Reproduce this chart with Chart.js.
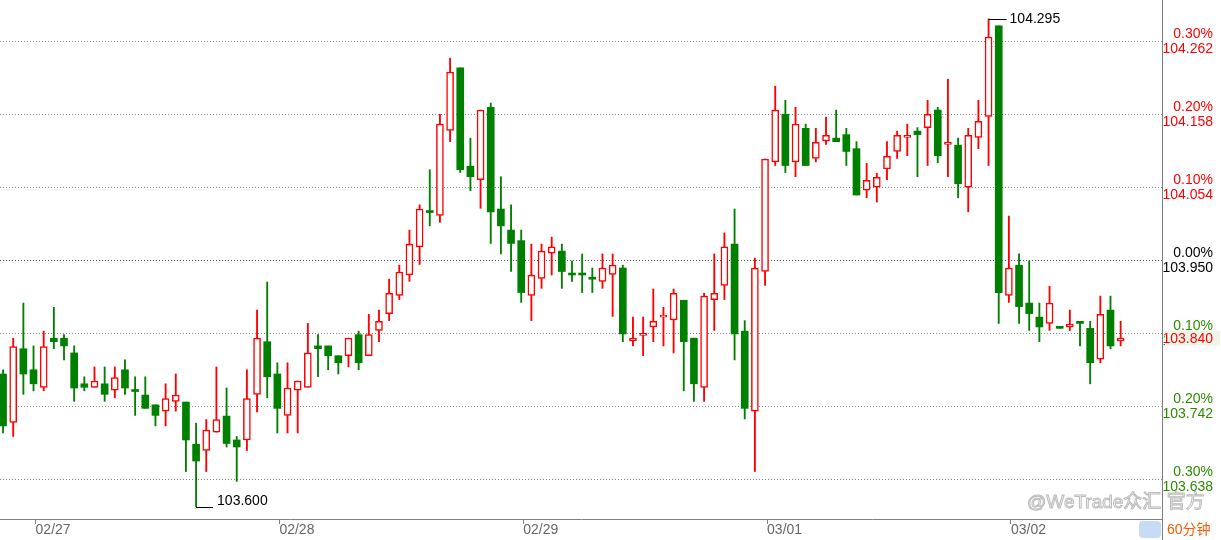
<!DOCTYPE html>
<html>
<head>
<meta charset="utf-8">
<script src="https://cdn.jsdelivr.net/npm/chart.js@4.4.1/dist/chart.umd.min.js"></script>
<style>
  html, body { margin: 0; padding: 0; background: #fff; }
  #wrap { width: 1221px; height: 540px; position: relative; }
</style>
</head>
<body>
<div id="wrap"><canvas id="kline"></canvas></div>
<script>
// 60 minute candles, 02/27 -> 03/02
const opens = [
  103.789, 103.720, 103.825, 103.795, 103.770, 103.840, 103.840, 103.819, 103.775, 103.770,
  103.775, 103.766, 103.795, 103.764, 103.759, 103.745, 103.736, 103.750, 103.749, 103.689,
  103.680, 103.706, 103.729, 103.695, 103.695, 103.760, 103.835, 103.789, 103.730, 103.766,
  103.770, 103.829, 103.829, 103.815, 103.815, 103.845, 103.815, 103.851, 103.875, 103.901,
  103.930, 103.970, 104.019, 104.015, 104.136, 104.225, 104.085, 104.066, 104.169, 104.024,
  103.994, 103.979, 103.901, 103.925, 103.961, 103.964, 103.930, 103.930, 103.924, 103.921,
  103.931, 103.940, 103.836, 103.844, 103.856, 103.870, 103.866, 103.894, 103.840, 103.770,
  103.895, 103.915, 103.974, 103.850, 103.736, 103.935, 104.091, 104.159, 104.091, 104.139,
  104.096, 104.121, 104.125, 104.130, 104.110, 104.051, 104.055, 104.081, 104.106, 104.126,
  104.135, 104.140, 104.165, 104.116, 104.115, 104.055, 104.126, 104.156, 104.285, 103.901,
  103.944, 103.890, 103.870, 103.861, 103.854, 103.856, 103.864, 103.854, 103.810, 103.880,
  103.836
];
const highs = [
  103.795, 103.840, 103.890, 103.829, 103.850, 103.884, 103.845, 103.829, 103.785, 103.799,
  103.799, 103.799, 103.809, 103.785, 103.785, 103.745, 103.775, 103.789, 103.749, 103.719,
  103.724, 103.799, 103.769, 103.700, 103.795, 103.880, 103.920, 103.805, 103.805, 103.779,
  103.861, 103.845, 103.829, 103.815, 103.840, 103.850, 103.874, 103.880, 103.924, 103.944,
  103.994, 104.030, 104.080, 104.159, 104.239, 104.225, 104.125, 104.165, 104.175, 104.070,
  104.030, 103.994, 103.974, 103.974, 103.984, 103.974, 103.950, 103.960, 103.940, 103.960,
  103.960, 103.944, 103.870, 103.870, 103.910, 103.884, 103.910, 103.894, 103.840, 103.904,
  103.960, 103.990, 104.024, 103.865, 103.954, 104.095, 104.199, 104.179, 104.169, 104.145,
  104.139, 104.155, 104.165, 104.139, 104.120, 104.089, 104.075, 104.120, 104.135, 104.145,
  104.140, 104.179, 104.169, 104.209, 104.125, 104.139, 104.179, 104.295, 104.285, 104.014,
  103.960, 103.950, 103.890, 103.914, 103.854, 103.880, 103.864, 103.864, 103.900, 103.900,
  103.864
];
const lows = [
  103.705, 103.700, 103.760, 103.765, 103.765, 103.825, 103.809, 103.750, 103.765, 103.770,
  103.750, 103.755, 103.760, 103.730, 103.740, 103.715, 103.715, 103.736, 103.650, 103.600,
  103.650, 103.706, 103.685, 103.636, 103.680, 103.735, 103.755, 103.705, 103.705, 103.705,
  103.770, 103.785, 103.795, 103.789, 103.799, 103.795, 103.815, 103.835, 103.865, 103.895,
  103.921, 103.945, 104.000, 104.005, 104.120, 104.076, 104.050, 104.025, 103.975, 103.960,
  103.935, 103.891, 103.865, 103.911, 103.930, 103.911, 103.921, 103.905, 103.905, 103.911,
  103.871, 103.835, 103.829, 103.815, 103.835, 103.829, 103.819, 103.765, 103.750, 103.750,
  103.851, 103.895, 103.809, 103.725, 103.650, 103.915, 104.086, 104.076, 104.070, 104.086,
  104.091, 104.116, 104.120, 104.086, 104.044, 104.040, 104.034, 104.066, 104.096, 104.100,
  104.070, 104.086, 104.090, 104.070, 104.040, 104.020, 104.110, 104.086, 103.861, 103.891,
  103.861, 103.851, 103.835, 103.851, 103.854, 103.851, 103.829, 103.775, 103.805, 103.825,
  103.829
];
const closes = [
  103.715, 103.828, 103.789, 103.775, 103.828, 103.835, 103.829, 103.769, 103.770, 103.779,
  103.760, 103.784, 103.769, 103.764, 103.740, 103.730, 103.754, 103.759, 103.695, 103.665,
  103.709, 103.724, 103.690, 103.685, 103.754, 103.840, 103.785, 103.740, 103.769, 103.779,
  103.819, 103.825, 103.815, 103.805, 103.840, 103.805, 103.845, 103.864, 103.904, 103.934,
  103.974, 104.024, 104.019, 104.145, 104.219, 104.080, 104.070, 104.165, 104.020, 104.000,
  103.975, 103.905, 103.930, 103.964, 103.970, 103.935, 103.930, 103.930, 103.924, 103.940,
  103.944, 103.846, 103.840, 103.844, 103.864, 103.870, 103.904, 103.835, 103.775, 103.900,
  103.904, 103.970, 103.846, 103.740, 103.940, 104.095, 104.165, 104.086, 104.145, 104.086,
  104.119, 104.129, 104.120, 104.106, 104.044, 104.065, 104.069, 104.099, 104.129, 104.129,
  104.130, 104.159, 104.100, 104.119, 104.060, 104.129, 104.149, 104.269, 103.905, 103.940,
  103.885, 103.875, 103.856, 103.890, 103.854, 103.860, 103.861, 103.805, 103.874, 103.829,
  103.840
];

const dayLabels = ['02/27', '02/28', '02/29', '03/01', '03/02'];
const dayStartIdx = [3, 27, 51, 75, 99];

const basePrice = 103.950;
const gridPrices = [103.638, 103.742, 103.846, 103.950, 104.054, 104.158, 104.262];
const gridPct = ['0.30%', '0.20%', '0.10%', '0.00%', '0.10%', '0.20%', '0.30%'];
const lastPrice = 103.840;
const periodText = '60分钟';
const markText = '@WeTrade众汇 官方';

const UP = '#ff0000';
const DOWN = '#008000';

// doji candles take their colour from the previous close
const isUp = opens.map((o, i) => {
  if (closes[i] !== o) return closes[i] > o;
  return i > 0 && closes[i] > closes[i - 1];
});

const bodies = opens.map((o, i) => ({ x: i, y: [o, closes[i]] }));
const wicks = lows.map((l, i) => ({ x: i, y: [l, highs[i]] }));

const FONT = 'Arial, "Liberation Sans", sans-serif';

// extreme price labels, current price box, watermark etc
const extras = {
  id: 'extras',
  afterDraw(chart) {
    const { ctx, scales: { x, y }, chartArea } = chart;
    ctx.save();

    let hi = 0, lo = 0;
    highs.forEach((h, i) => { if (h > highs[hi]) hi = i; });
    lows.forEach((l, i) => { if (l < lows[lo]) lo = i; });

    ctx.strokeStyle = '#000';
    ctx.lineWidth = 1;
    ctx.fillStyle = '#000';
    ctx.font = '14px ' + FONT;
    ctx.textAlign = 'left';

    let px = x.getPixelForValue(hi), py = Math.round(y.getPixelForValue(highs[hi])) + 0.5;
    ctx.beginPath(); ctx.moveTo(px, py); ctx.lineTo(px + 18, py); ctx.stroke();
    ctx.textBaseline = 'middle';
    ctx.fillText(highs[hi].toFixed(3), px + 21, py);

    px = x.getPixelForValue(lo); py = Math.round(y.getPixelForValue(lows[lo])) + 0.5;
    ctx.beginPath(); ctx.moveTo(px, py); ctx.lineTo(px + 17, py); ctx.stroke();
    ctx.textBaseline = 'alphabetic';
    ctx.fillText(lows[lo].toFixed(3), px + 21, py - 3);

    // current price box
    const cy = y.getPixelForValue(lastPrice);
    ctx.fillStyle = '#eef6ea';
    ctx.fillRect(chartArea.right + 3, cy - 7.5, 55, 15);
    ctx.fillStyle = UP;
    ctx.textAlign = 'right';
    ctx.textBaseline = 'middle';
    ctx.fillText(lastPrice.toFixed(3), 1213, cy + 0.5);

    // axis line continues through the bottom band
    ctx.strokeStyle = '#808080';
    ctx.beginPath();
    ctx.moveTo(chartArea.right + 0.5, chartArea.bottom);
    ctx.lineTo(chartArea.right + 0.5, 540);
    ctx.stroke();

    // watermark
    ctx.font = '19px ' + FONT + ', "Noto Sans CJK SC"';
    ctx.textAlign = 'left';
    ctx.textBaseline = 'alphabetic';
    ctx.lineWidth = 1;
    ctx.strokeStyle = '#bcbcbc';
    ctx.fillStyle = '#fafafa';
    ctx.fillText(markText, 1027, 508);
    ctx.strokeText(markText, 1027, 508);

    // period box
    ctx.fillStyle = '#c6dcf4';
    ctx.beginPath();
    ctx.roundRect(1139, 521, 22, 17, 4);
    ctx.fill();
    ctx.fillStyle = '#f25c05';
    ctx.font = '14px ' + FONT + ', "Noto Sans CJK SC"';
    ctx.textBaseline = 'middle';
    ctx.fillText(periodText, 1167, 530);

    ctx.restore();
  }
};

new Chart(document.getElementById('kline'), {
  type: 'bar',
  data: {
    datasets: [
      {
        label: 'body',
        data: bodies,
        order: 0,
        grouped: false,
        barThickness: 7,
        minBarLength: 2,
        borderSkipped: false,
        borderWidth: isUp.map(u => (u ? 1.5 : 0)),
        borderColor: isUp.map(u => (u ? UP : DOWN)),
        backgroundColor: isUp.map(u => (u ? '#ffffff' : DOWN))
      },
      {
        label: 'wick',
        data: wicks,
        order: 1,
        grouped: false,
        barThickness: 1.2,
        borderWidth: 0,
        backgroundColor: isUp.map(u => (u ? UP : DOWN))
      }
    ]
  },
  options: {
    responsive: true,
    maintainAspectRatio: false,
    animation: false,
    layout: { padding: { left: 0, top: 0, right: 8, bottom: 0 } },
    plugins: {
      legend: { display: false },
      tooltip: { enabled: false }
    },
    scales: {
      x: {
        type: 'linear',
        offset: false,
        min: -0.3,
        max: 114.07,
        afterBuildTicks: s => { s.ticks = dayStartIdx.map(i => ({ value: i + 0.2 })); },
        afterFit: s => { s.height = 21; s.paddingLeft = 0; s.paddingRight = 0; },
        ticks: {
          autoSkip: false,
          maxRotation: 0,
          align: 'start',
          padding: -2,
          color: '#666',
          font: { family: FONT, size: 14 },
          callback: (v, i) => dayLabels[i]
        },
        grid: { drawOnChartArea: false, drawTicks: true, tickLength: 5, tickColor: '#808080', offset: false },
        border: { color: '#808080', width: 1 }
      },
      y: {
        position: 'right',
        beginAtZero: false,
        min: 103.5824,
        max: 104.3218,
        afterBuildTicks: s => { s.ticks = gridPrices.map(v => ({ value: v })); },
        // labels sit well inside the range, no need to reserve space above/below
        afterFit: s => { s.width = 51; s.paddingTop = 0; s.paddingBottom = 0; },
        ticks: {
          crossAlign: 'far',
          padding: 0,
          font: { family: FONT, size: 14, lineHeight: 1.07 },
          color: c => {
            const v = gridPrices[c.index];
            return v > basePrice ? UP : (v < basePrice ? '#2e8b00' : '#000');
          },
          callback: (v, i) => [gridPct[i], gridPrices[i].toFixed(3)]
        },
        grid: {
          drawTicks: false,
          color: c => (c.tick && c.tick.value === basePrice ? '#555' : '#8a8a8a')
        },
        border: { color: '#808080', width: 1, dash: [1, 2] }
      }
    }
  },
  plugins: [extras]
});
</script>
</body>
</html>
